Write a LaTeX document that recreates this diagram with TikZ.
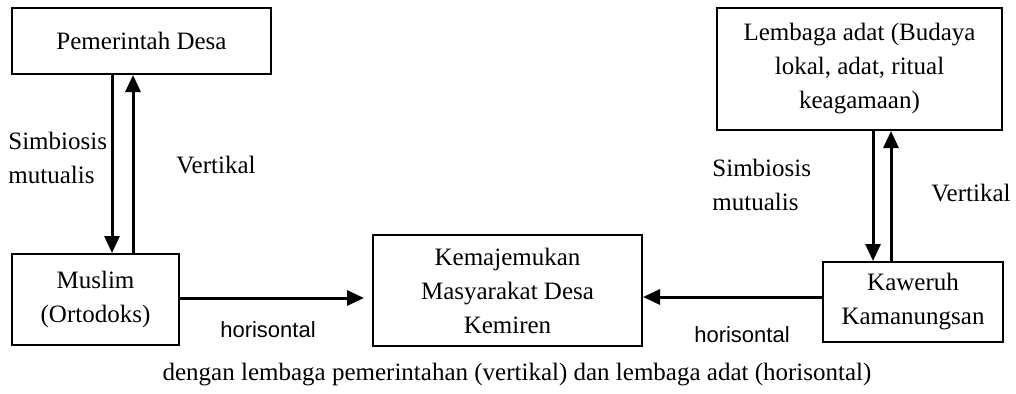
\documentclass[tikz,border=0pt]{standalone}
\usepackage{fontspec}
\setmainfont{Liberation Serif}
\newfontfamily\labelsans{Liberation Sans}
\usetikzlibrary{arrows.meta, positioning}

\begin{document}
\begin{tikzpicture}[x=0.5pt, y=-0.5pt, font=\fontsize{12.5}{17}\selectfont,
    box/.style={draw, line width=1pt, align=center, inner sep=2pt},
    flow/.style={-{Triangle[length=8.5pt, width=7.5pt]}, line width=1.5pt},
    note/.style={align=left, inner sep=0pt},
    sidelabel/.style={inner sep=0pt, font=\labelsans\fontsize{11}{13}\selectfont}]
  \useasboundingbox (0,0) rectangle (1016,393);

  \node[box, minimum width=129.5pt, minimum height=33pt] (pemdes) at (141.5,41) {Pemerintah Desa};
  \node[box, minimum width=83.5pt, minimum height=45.5pt] (muslim) at (95.5,299.5) {Muslim\\(Ortodoks)};
  \node[box, minimum width=134.5pt, minimum height=55.5pt] (kemaj) at (507.5,290.5) {Kemajemukan\\Masyarakat Desa\\Kemiren};
  \node[box, minimum width=142.5pt, minimum height=61pt] (lembaga) at (859.5,69) {Lembaga adat (Budaya\\lokal, adat, ritual\\keagamaan)};
  \node[box, minimum width=90pt, minimum height=40pt] (kaweruh) at (913,302) {Kaweruh\\Kamanungsan};

  % hubungan vertikal
  \draw[flow] ([xshift=-14.75pt]pemdes.south) -- ([xshift=-14.75pt]pemdes.south |- muslim.north);
  \draw[flow] ([xshift=-4.25pt]pemdes.south |- muslim.north) -- ([xshift=-4.25pt]pemdes.south);
  \draw[flow] ([xshift=6.75pt]lembaga.south) -- ([xshift=6.75pt]lembaga.south |- kaweruh.north);
  \draw[flow] ([xshift=15.75pt]lembaga.south |- kaweruh.north) -- ([xshift=15.75pt]lembaga.south);

  % hubungan horisontal
  \draw[flow, shorten >=4pt] ([yshift=0.75pt]muslim.east) -- ([yshift=0.75pt]muslim.east -| kemaj.west);
  \draw[flow] ([yshift=2.5pt]kaweruh.west) -- ([yshift=2.5pt]kaweruh.west -| kemaj.east);

  \node[note, anchor=west] (simleft) at (8,158) {Simbiosis\\mutualis};
  \node[note] (vertleft) at (216,165) {Vertikal};
  \node[note, anchor=west] (simright) at (712,184.5) {Simbiosis\\mutualis};
  \node[note] (vertright) at (971,193) {Vertikal};
  \node[sidelabel] (horleft) at (268,330) {horisontal};
  \node[sidelabel] (horright) at (742,335) {horisontal};
  \node[note] (caption) at (517,375) {dengan lembaga pemerintahan (vertikal) dan lembaga adat (horisontal)};
\end{tikzpicture}
\end{document}
